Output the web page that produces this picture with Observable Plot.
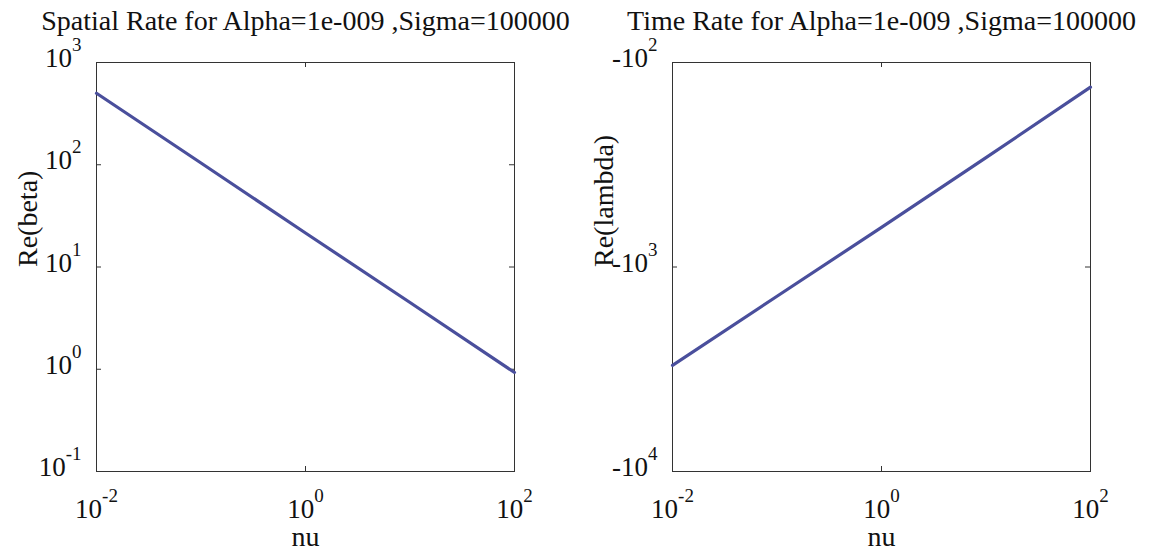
<!DOCTYPE html>
<html>
<head>
<meta charset="utf-8">
<script src="https://cdn.jsdelivr.net/npm/d3@7"></script>
<script src="https://cdn.jsdelivr.net/npm/@observablehq/plot@0.6"></script>
<style>
  html, body { margin: 0; padding: 0; background: #fff; }
  #row { display: flex; width: 1152px; height: 550px; }
</style>
</head>
<body>
<div id="row"></div>
<script>
// Frequency samples (nu) and the real parts of the two rates
const nu = [0.01, 0.1, 1, 10, 100];
const reBeta = [500, 104, 21.5, 4.5, 0.93];
const reLambda = [-3030, -1390, -640, -292, -132];

// Tick values and their labels ("^" marks the exponent)
const nuTicks = [1e-2, 1, 1e2];
const nuTickLabels = ["10^-2", "10^0", "10^2"];
const betaTicks = [1e3, 1e2, 1e1, 1e0, 1e-1];
const betaTickLabels = ["10^3", "10^2", "10^1", "10^0", "10^-1"];
const lambdaTicks = [-1e2, -1e3, -1e4];
const lambdaTickLabels = ["-10^2", "-10^3", "-10^4"];

const titles = [
  "Spatial Rate for Alpha=1e-009 ,Sigma=100000",
  "Time Rate for Alpha=1e-009 ,Sigma=100000"
];
const yLabels = ["Re(beta)", "Re(lambda)"];
const xLabel = "nu";

const FONT = "'Liberation Serif', 'Times New Roman', serif";
const INK = "#111";
const LINE = "#4a4f9c";

function panel({values, yDomain, yTicks, yTickLabels, title, yLabel}) {
  const rows = nu.map((x, i) => ({nu: x, v: values[i]}));
  const svg = Plot.plot({
    width: 576,
    height: 550,
    marginTop: 62,
    marginBottom: 79,
    marginLeft: 96,
    marginRight: 62,
    style: {fontFamily: FONT, background: "transparent", color: INK},
    x: {type: "log", domain: [1e-2, 1e2], axis: null},
    y: {type: "log", domain: yDomain, axis: null},
    marks: [
      Plot.frame({stroke: "#333", strokeWidth: 1}),
      // short inward ticks on the box
      Plot.tickX(nuTicks, {x: d => d, insetTop: 404, stroke: "#333"}),
      Plot.tickX(nuTicks, {x: d => d, insetBottom: 404, stroke: "#333"}),
      Plot.tickY(yTicks, {y: d => d, insetRight: 413, stroke: "#333"}),
      Plot.tickY(yTicks, {y: d => d, insetLeft: 413, stroke: "#333"}),
      Plot.line(rows, {x: "nu", y: "v", stroke: LINE, strokeWidth: 3.2}),
      Plot.text(nuTicks, {
        x: d => d, text: (d, i) => nuTickLabels[i], frameAnchor: "bottom",
        dy: 46, fontSize: 27, fill: INK, className: "sup-label"
      }),
      Plot.text(yTicks, {
        y: d => d, text: (d, i) => yTickLabels[i], frameAnchor: "left",
        textAnchor: "end", dx: -15, dy: -4, fontSize: 27, fill: INK, className: "sup-label"
      }),
      Plot.text([title], {text: d => d, frameAnchor: "top", dy: -52, fontSize: 28, fill: INK}),
      Plot.text([yLabel], {text: d => d, frameAnchor: "left", rotate: -90, dx: -68, fontSize: 28, fill: INK}),
      Plot.text([xLabel], {text: d => d, frameAnchor: "bottom", dy: 74, fontSize: 28, fill: INK})
    ]
  });
  // turn "10^k" into a base with a raised exponent
  d3.select(svg).selectAll("g.sup-label text").each(function () {
    const [base, exp] = this.textContent.split("^");
    const t = d3.select(this);
    t.text(null);
    t.append("tspan").text(base);
    t.append("tspan").attr("dy", -16).attr("font-size", 19).text(exp);
  });
  return svg;
}

const row = document.getElementById("row");
row.append(panel({
  values: reBeta, yDomain: [1e-1, 1e3], yTicks: betaTicks,
  yTickLabels: betaTickLabels, title: titles[0], yLabel: yLabels[0]
}));
row.append(panel({
  values: reLambda, yDomain: [-1e4, -1e2], yTicks: lambdaTicks,
  yTickLabels: lambdaTickLabels, title: titles[1], yLabel: yLabels[1]
}));
</script>
</body>
</html>
